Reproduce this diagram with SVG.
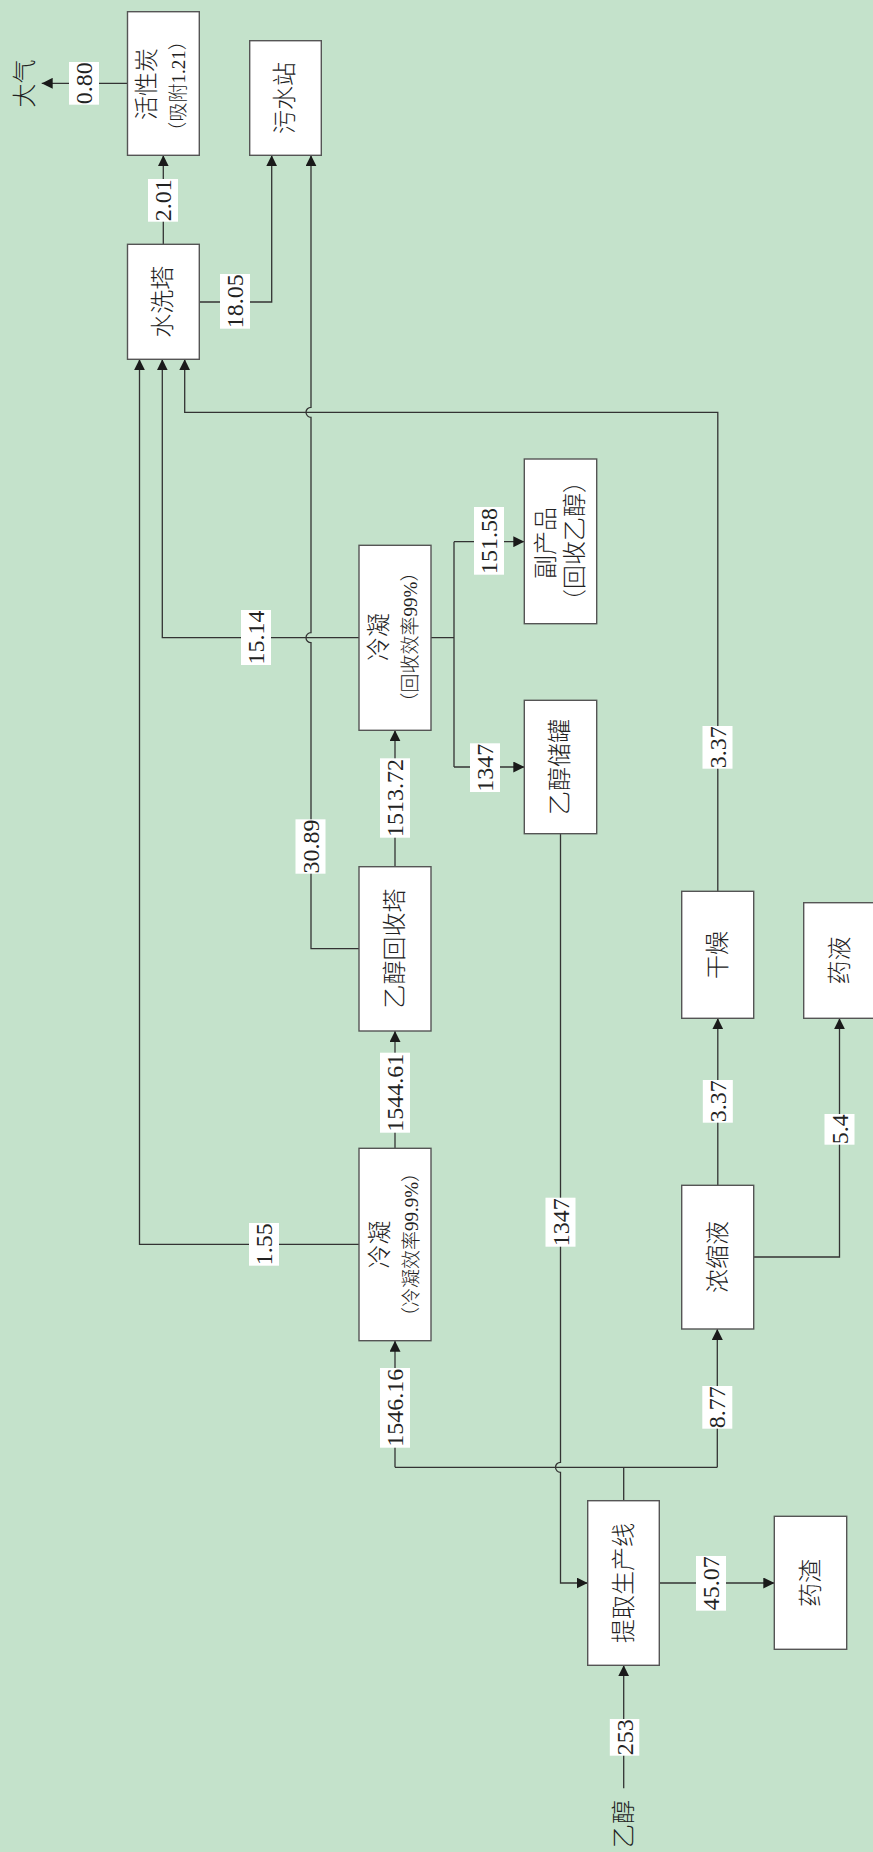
<svg xmlns="http://www.w3.org/2000/svg" width="873" height="1852" viewBox="0 0 873 1852">
<style>
.box{fill:#fff;stroke:#555;stroke-width:1.4}
.ln{fill:none;stroke:#333;stroke-width:1.3}
.lb{fill:#fff}
text{font-family:"Liberation Serif","Noto Sans CJK SC",serif;fill:#222;text-anchor:middle;dominant-baseline:central}
.t{font-size:24px;font-weight:300}
.s{font-size:19px;font-weight:300}
.n{font-size:24px}
</style>
<defs>
<marker id="ah" markerUnits="userSpaceOnUse" markerWidth="11" markerHeight="11" refX="11" refY="5.5" orient="auto">
<path d="M0,0 L11,5.5 L0,11 z" fill="#1a1a1a"/>
</marker>
</defs>
<rect x="0" y="0" width="873" height="1852" fill="#c4e2cb"/>

<g id="connectors">
<path class="ln" d="M127.5,83.3 H41.7" marker-end="url(#ah)"/>
<path class="ln" d="M163.3,244.3 V155.3" marker-end="url(#ah)"/>
<path class="ln" d="M199.3,302 H271.7 V155.3" marker-end="url(#ah)"/>
<path class="ln" d="M359,948.7 H311 V642.7 A5,5 0 0 1 311,632.7 V417.3 A5,5 0 0 1 311,407.3 V155.3" marker-end="url(#ah)"/>
<path class="ln" d="M359,1244.3 H139.5 V359.3" marker-end="url(#ah)"/>
<path class="ln" d="M359,637.7 H162.3 V359.3" marker-end="url(#ah)"/>
<path class="ln" d="M717.8,891.3 V412.3 H184.7 V359.3" marker-end="url(#ah)"/>
<path class="ln" d="M395,866.7 V730.3" marker-end="url(#ah)"/>
<path class="ln" d="M431,637.7 H454 M454,541.7 V767"/>
<path class="ln" d="M454,541.7 H524.3" marker-end="url(#ah)"/>
<path class="ln" d="M454,767 H524.3" marker-end="url(#ah)"/>
<path class="ln" d="M560.5,833.7 V1462.3 A5,5 0 0 0 560.5,1472.3 V1583 H587.7" marker-end="url(#ah)"/>
<path class="ln" d="M395,1148.3 V1031" marker-end="url(#ah)"/>
<path class="ln" d="M623.7,1500.7 V1467.3 M395,1467.3 H717.3"/>
<path class="ln" d="M395,1467.3 V1340.7" marker-end="url(#ah)"/>
<path class="ln" d="M717.3,1467.3 V1329" marker-end="url(#ah)"/>
<path class="ln" d="M659.3,1583 H774.3" marker-end="url(#ah)"/>
<path class="ln" d="M623.7,1788.3 V1665.3" marker-end="url(#ah)"/>
<path class="ln" d="M717.8,1185.3 V1018.3" marker-end="url(#ah)"/>
<path class="ln" d="M753.7,1257 H839.5 V1018.3" marker-end="url(#ah)"/>
</g>

<g id="labels">
<rect class="lb" x="69" y="62" width="30" height="42.7"/><text class="n" transform="translate(84,83.3) rotate(-90)">0.80</text>
<rect class="lb" x="148" y="179" width="30" height="42.7"/><text class="n" transform="translate(163,200.3) rotate(-90)">2.01</text>
<rect class="lb" x="220" y="274" width="30" height="54.7"/><text class="n" transform="translate(235,301.3) rotate(-90)">18.05</text>
<rect class="lb" x="241" y="610" width="30" height="55"/><text class="n" transform="translate(256,637.5) rotate(-90)">15.14</text>
<rect class="lb" x="474" y="507" width="30" height="67.7"/><text class="n" transform="translate(489,541) rotate(-90)">151.58</text>
<rect class="lb" x="470" y="743.3" width="30" height="48.7"/><text class="n" transform="translate(485,767.7) rotate(-90)">1347</text>
<rect class="lb" x="380" y="758.3" width="30" height="79.4"/><text class="n" transform="translate(395,798) rotate(-90)">1513.72</text>
<rect class="lb" x="295.5" y="819.3" width="30" height="54.4"/><text class="n" transform="translate(310.5,846.5) rotate(-90)">30.89</text>
<rect class="lb" x="702.5" y="726" width="30" height="42.7"/><text class="n" transform="translate(717.5,747.3) rotate(-90)">3.37</text>
<rect class="lb" x="380" y="1052.7" width="30" height="80"/><text class="n" transform="translate(395,1092.7) rotate(-90)">1544.61</text>
<rect class="lb" x="702.8" y="1080" width="30" height="42.7"/><text class="n" transform="translate(717.8,1101.3) rotate(-90)">3.37</text>
<rect class="lb" x="824.5" y="1114" width="30" height="30.7"/><text class="n" transform="translate(839.5,1129.3) rotate(-90)">5.4</text>
<rect class="lb" x="249" y="1223" width="30" height="42.7"/><text class="n" transform="translate(264,1244.3) rotate(-90)">1.55</text>
<rect class="lb" x="545.5" y="1197.7" width="30" height="49"/><text class="n" transform="translate(560.5,1222.2) rotate(-90)">1347</text>
<rect class="lb" x="380" y="1368" width="30" height="79.7"/><text class="n" transform="translate(395,1407.8) rotate(-90)">1546.16</text>
<rect class="lb" x="702.3" y="1386" width="30" height="42.7"/><text class="n" transform="translate(717.3,1407.3) rotate(-90)">8.77</text>
<rect class="lb" x="696" y="1556" width="30" height="54.7"/><text class="n" transform="translate(711,1583.3) rotate(-90)">45.07</text>
<rect class="lb" x="609.8" y="1719" width="29.5" height="36.7"/><text class="n" transform="translate(624.5,1737.3) rotate(-90)">253</text>
</g>

<g id="n-daqi"><text class="t" transform="translate(25,83.5) rotate(-90)">大气</text></g>
<g id="n-huoxingtan"><rect class="box" x="127.5" y="11.7" width="71.8" height="143.6"/><text class="t" transform="translate(147,84) rotate(-90)">活性炭</text><text class="s" transform="translate(178,86) rotate(-90)">（吸附1.21）</text></g>
<g id="n-wushuizhan"><rect class="box" x="249.7" y="40.7" width="71.6" height="114.6"/><text class="t" transform="translate(285,98) rotate(-90)">污水站</text></g>
<g id="n-shuixita"><rect class="box" x="127.5" y="244.3" width="71.8" height="115"/><text class="t" transform="translate(163,301.8) rotate(-90)">水洗塔</text></g>
<g id="n-lengning1"><rect class="box" x="359" y="545.3" width="72" height="185"/><text class="t" transform="translate(379,637) rotate(-90)">冷凝</text><text class="s" transform="translate(410,637) rotate(-90)">（回收效率99%）</text></g>
<g id="n-fuchanpin"><rect class="box" x="524.3" y="459" width="72.4" height="164.7"/><text class="t" transform="translate(546,543) rotate(-90)">副产品</text><text class="t" transform="translate(575,541) rotate(-90)">（回收乙醇）</text></g>
<g id="n-chuguan"><rect class="box" x="524.3" y="700.3" width="72.4" height="133.4"/><text class="t" transform="translate(560,767) rotate(-90)">乙醇储罐</text></g>
<g id="n-huishouta"><rect class="box" x="359" y="866.7" width="72" height="164.3"/><text class="t" transform="translate(395,948.5) rotate(-90)">乙醇回收塔</text></g>
<g id="n-lengning2"><rect class="box" x="359" y="1148.3" width="72" height="192.4"/><text class="t" transform="translate(380,1244.5) rotate(-90)">冷凝</text><text class="s" transform="translate(411,1244.5) rotate(-90)">（冷凝效率99.9%）</text></g>
<g id="n-ganzao"><rect class="box" x="681.7" y="891.3" width="72" height="127"/><text class="t" transform="translate(717.7,955) rotate(-90)">干燥</text></g>
<g id="n-yaoye"><rect class="box" x="803.7" y="902.7" width="72" height="115.6"/><text class="t" transform="translate(839.5,960.5) rotate(-90)">药液</text></g>
<g id="n-nongsuoye"><rect class="box" x="681.7" y="1185.3" width="72" height="143.7"/><text class="t" transform="translate(717.7,1257) rotate(-90)">浓缩液</text></g>
<g id="n-tiqu"><rect class="box" x="587.7" y="1500.7" width="71.6" height="164.6"/><text class="t" transform="translate(623.5,1583) rotate(-90)">提取生产线</text></g>
<g id="n-yaozha"><rect class="box" x="774.3" y="1516.3" width="72.4" height="133"/><text class="t" transform="translate(810.5,1583) rotate(-90)">药渣</text></g>
<g id="n-yichun"><text class="t" transform="translate(623.5,1824) rotate(-90)">乙醇</text></g>
</svg>
